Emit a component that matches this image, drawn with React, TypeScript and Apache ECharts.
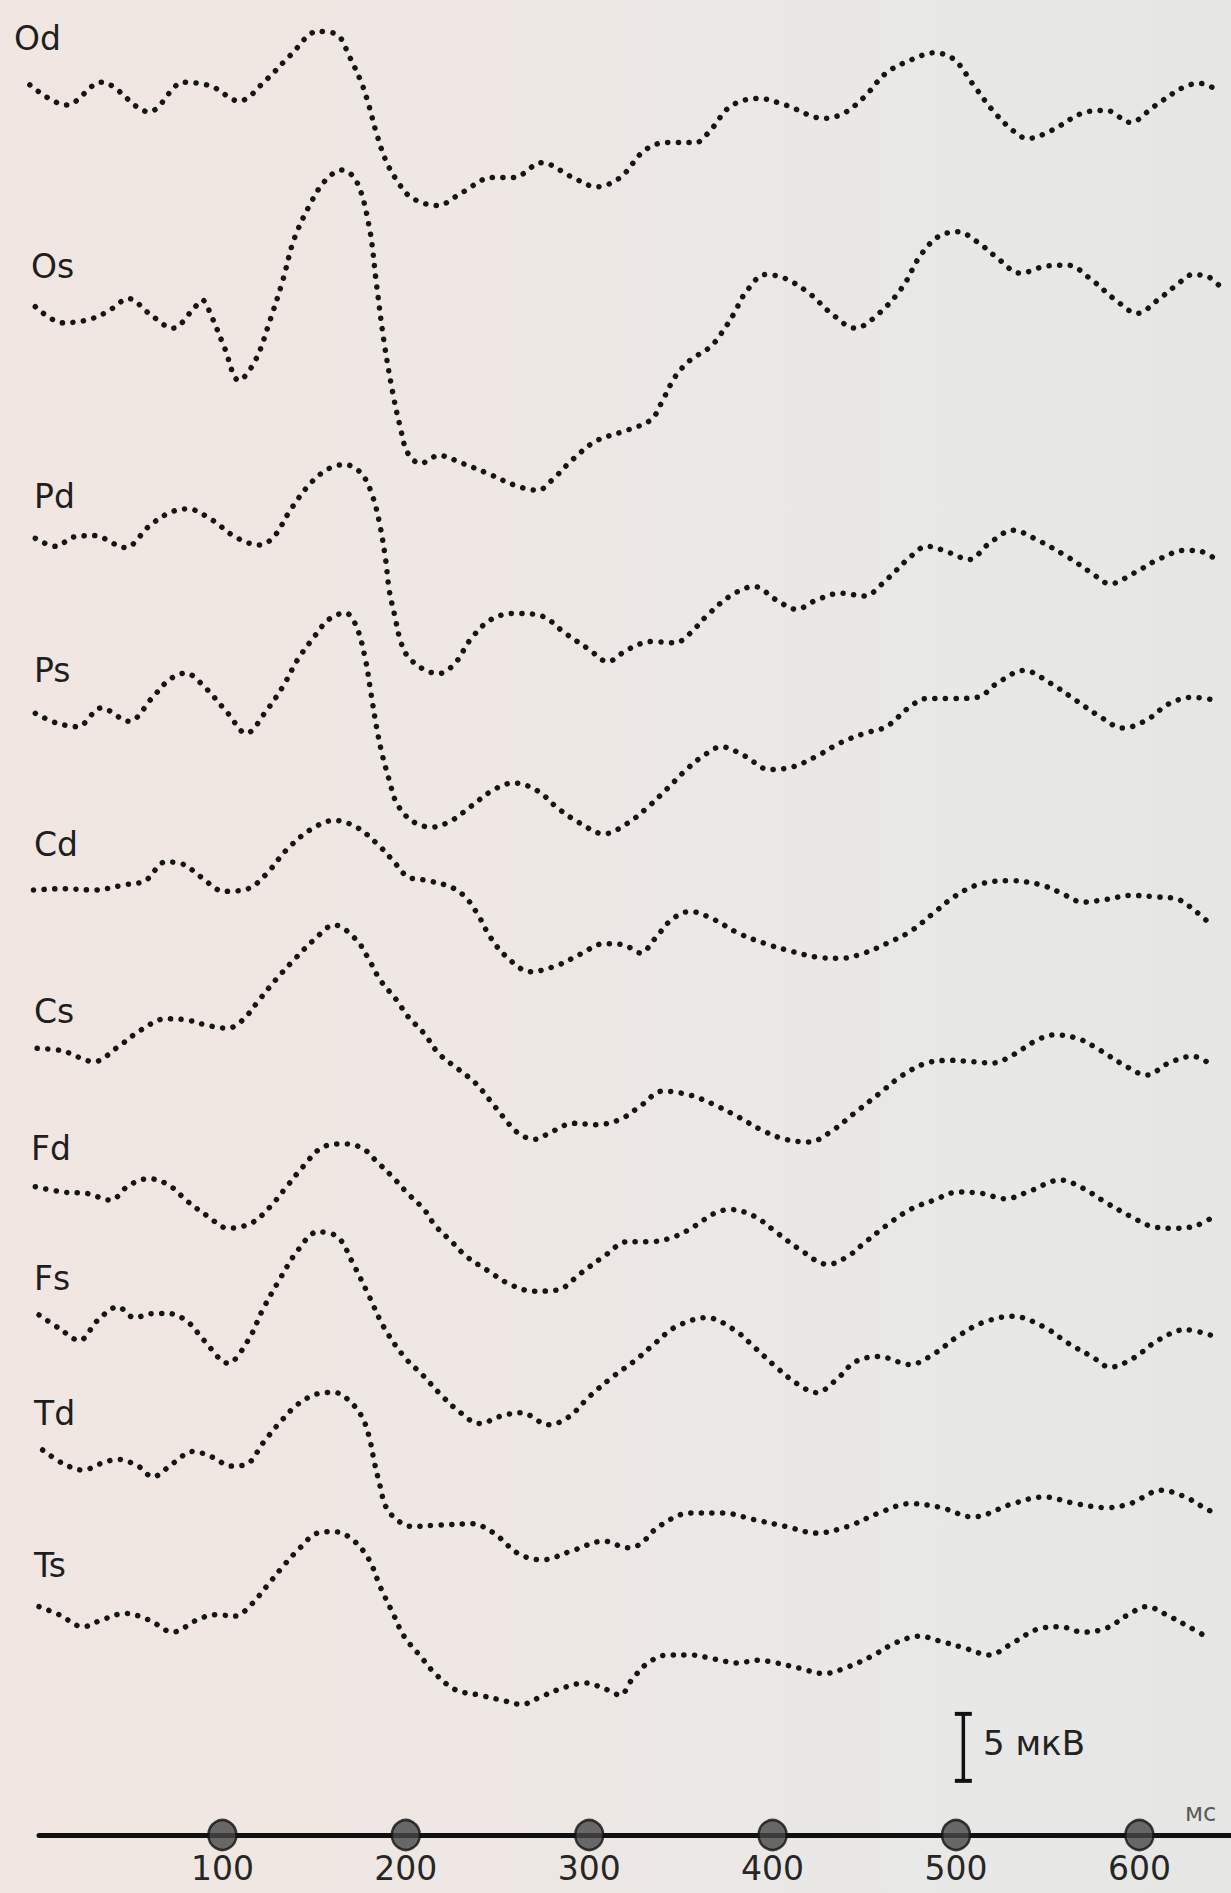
import React, { useEffect, useRef } from "react";
import * as echarts from "echarts";

// Channel names (top to bottom)
const CHANNELS = ["Od", "Os", "Pd", "Ps", "Cd", "Cs", "Fd", "Fs", "Td", "Ts"];

// Each trace: [time ms, amplitude µV relative to its own baseline]
const OD = [[-5,0],[15,-1.5],[34,0.2],[60,-2.0],[79,0.2],[94,-0.1],[109,-1.2],[124,0.4],[137,2.2],[152,4.0],[163,3.7],[169,2.2],[176,0.1],[180,-1.6],[184,-3.6],[189,-5.6],[195,-7.1],[203,-8.4],[217,-9.0],[231,-8.0],[247,-6.9],[259,-6.9],[274,-5.8],[291,-6.9],[304,-7.6],[317,-6.9],[330,-4.9],[342,-4.3],[358,-4.3],[366,-3.4],[377,-1.6],[392,-1.0],[407,-1.5],[428,-2.5],[439,-2.1],[450,-0.9],[462,0.9],[476,1.9],[488,2.4],[499,1.9],[509,0.1],[520,-1.9],[531,-3.4],[539,-4.0],[552,-3.4],[569,-2.1],[582,-1.9],[595,-2.8],[608,-1.6],[625,-0.1],[634,0.1],[640,-0.2]];
const OS = [[-2,0],[13,-1.2],[26,-1.0],[37,-0.4],[49,0.6],[60,-0.5],[73,-1.6],[84,-0.2],[89,0.5],[94,-0.7],[101,-3.0],[109,-5.5],[118,-4.0],[126,-1.0],[133,2.0],[139,5.0],[148,7.7],[156,9.4],[165,10.2],[173,9.4],[180,6.0],[184,1.7],[188,-2.5],[193,-6.5],[197,-9.0],[201,-10.9],[208,-11.7],[218,-11.1],[231,-11.7],[244,-12.4],[261,-13.4],[272,-13.7],[280,-12.9],[291,-11.4],[304,-10.0],[321,-9.2],[334,-8.4],[340,-7.0],[347,-5.2],[355,-4.0],[366,-3.0],[372,-2.0],[379,-0.5],[385,1.0],[396,2.4],[407,2.1],[420,1.0],[432,-0.5],[445,-1.6],[458,-0.5],[471,1.5],[480,3.7],[490,5.2],[501,5.6],[512,4.8],[522,3.7],[535,2.5],[548,3.0],[561,3.1],[574,2.0],[587,0.5],[599,-0.5],[610,0.5],[621,1.7],[629,2.4],[638,2.2],[644,1.5]];
const PD = [[-2,0],[9,-0.6],[19,0.1],[30,0.2],[47,-0.7],[60,0.9],[71,1.9],[81,2.2],[94,1.4],[107,0.1],[120,-0.5],[128,0.1],[137,2.1],[148,4.1],[158,5.2],[167,5.5],[176,4.8],[182,3.1],[186,0.9],[189,-1.6],[191,-3.9],[194,-5.8],[197,-7.6],[201,-8.8],[210,-9.8],[218,-10.1],[227,-9.3],[235,-7.6],[246,-6.1],[259,-5.6],[274,-5.8],[287,-7.1],[300,-8.3],[310,-9.2],[321,-8.3],[334,-7.7],[347,-7.8],[355,-7.1],[364,-5.8],[377,-4.3],[390,-3.6],[402,-4.6],[413,-5.3],[424,-4.6],[437,-4.1],[450,-4.3],[462,-3.1],[475,-1.4],[484,-0.6],[497,-1.1],[507,-1.6],[518,-0.4],[531,0.6],[544,-0.1],[561,-1.4],[574,-2.6],[584,-3.4],[597,-2.6],[610,-1.6],[625,-0.9],[634,-1.0],[642,-1.6]];
const PS = [[-2,0],[9,-0.7],[21,-1.0],[34,0.4],[49,-0.6],[62,1.2],[71,2.5],[80,3.0],[90,2.0],[103,0],[113,-1.5],[124,0.2],[133,2.0],[141,4.0],[150,5.7],[158,7.0],[167,7.5],[173,6.5],[178,4.0],[181,1.5],[184,-1.0],[187,-3.0],[191,-5.0],[195,-6.7],[203,-8.0],[214,-8.5],[225,-8.0],[235,-7.0],[248,-5.7],[259,-5.2],[272,-5.8],[283,-7.1],[295,-8.2],[308,-9.0],[321,-8.2],[332,-7.0],[342,-5.7],[353,-4.2],[362,-3.2],[372,-2.5],[385,-3.2],[398,-4.2],[411,-4.0],[424,-3.2],[437,-2.2],[450,-1.5],[462,-1.0],[475,0.5],[484,1.1],[497,1.1],[512,1.2],[522,2.2],[537,3.2],[552,2.2],[565,1.0],[578,-0.2],[591,-1.1],[604,-0.5],[616,0.7],[629,1.2],[640,1.0]];
const CD = [[-3,0],[13,0.1],[30,0],[47,0.4],[58,0.7],[69,2.1],[79,1.9],[88,1.0],[101,-0.1],[114,0.1],[124,1.2],[135,3.0],[148,4.5],[161,5.2],[173,4.7],[184,3.5],[193,2.2],[201,1.0],[212,0.7],[225,0.2],[233,-0.6],[240,-2.0],[246,-3.5],[255,-5.0],[268,-6.1],[283,-5.6],[295,-4.8],[308,-4.0],[319,-4.1],[328,-4.7],[336,-3.6],[345,-2.2],[355,-1.6],[368,-2.2],[381,-3.2],[396,-4.0],[411,-4.6],[424,-5.0],[437,-5.1],[450,-4.7],[462,-4.0],[475,-3.1],[488,-1.7],[499,-0.5],[512,0.4],[529,0.7],[546,0.4],[557,-0.2],[569,-0.9],[582,-0.7],[595,-0.4],[608,-0.5],[621,-0.7],[629,-1.4],[640,-2.7]];
const CS = [[-1,0],[13,-0.2],[30,-1.0],[43,0.1],[56,1.4],[69,2.2],[81,2.1],[92,1.7],[103,1.5],[111,2.1],[120,3.6],[129,5.1],[139,6.6],[150,8.1],[161,9.2],[173,8.1],[180,6.6],[186,5.1],[195,3.6],[201,2.4],[210,1.1],[218,-0.4],[229,-1.6],[238,-2.6],[246,-3.9],[253,-5.1],[261,-6.3],[270,-6.8],[280,-6.2],[291,-5.6],[304,-5.7],[317,-5.3],[328,-4.3],[340,-3.2],[355,-3.5],[368,-4.2],[381,-5.1],[394,-6.1],[407,-6.8],[420,-7.0],[432,-6.2],[445,-4.8],[458,-3.4],[471,-2.0],[484,-1.1],[497,-0.9],[509,-1.0],[520,-1.1],[531,-0.5],[544,0.6],[554,1.0],[567,0.7],[578,-0.1],[591,-1.2],[604,-2.0],[616,-1.1],[629,-0.6],[641,-1.4]];
const FD = [[-2,0],[13,-0.4],[26,-0.5],[39,-1.0],[49,0.1],[60,0.6],[71,0.1],[81,-1.1],[92,-2.2],[103,-3.1],[116,-2.7],[126,-1.5],[135,0],[144,1.5],[154,2.9],[165,3.2],[176,2.9],[184,1.9],[193,0.7],[201,-0.5],[210,-1.7],[216,-2.9],[225,-4.1],[233,-5.2],[244,-6.2],[257,-7.3],[270,-7.8],[283,-7.7],[295,-6.5],[308,-5.2],[321,-4.1],[334,-4.1],[347,-3.7],[358,-2.9],[368,-2.0],[377,-1.7],[390,-2.2],[402,-3.4],[415,-4.7],[430,-5.8],[441,-5.2],[450,-4.2],[462,-2.9],[475,-1.7],[488,-1.0],[501,-0.4],[514,-0.5],[527,-0.9],[539,-0.4],[557,0.5],[569,-0.1],[582,-1.2],[595,-2.2],[608,-3.0],[621,-3.1],[631,-2.9],[641,-2.2]];
const FS = [[0,0],[11,-1.0],[22,-1.9],[32,-0.4],[43,0.6],[52,-0.2],[62,0.1],[71,0.1],[81,-0.5],[90,-1.9],[103,-3.6],[114,-1.9],[122,0.4],[131,2.6],[141,4.8],[152,6.2],[163,5.8],[171,3.9],[180,1.4],[188,-0.9],[199,-3.1],[210,-4.6],[218,-5.8],[229,-7.2],[240,-8.1],[253,-7.5],[263,-7.3],[278,-8.2],[289,-7.6],[300,-6.1],[313,-4.6],[325,-3.4],[336,-2.1],[347,-0.9],[364,-0.2],[379,-1.1],[390,-2.4],[402,-3.9],[413,-5.1],[424,-5.8],[435,-4.8],[445,-3.5],[458,-3.1],[475,-3.7],[488,-2.9],[501,-1.6],[514,-0.6],[531,-0.1],[548,-0.9],[561,-2.1],[574,-3.1],[584,-3.9],[597,-3.2],[610,-1.9],[625,-1.1],[641,-1.6]];
const TD = [[2,0],[13,-1.0],[24,-1.5],[34,-1.0],[43,-0.7],[54,-1.2],[62,-2.0],[73,-1.0],[84,-0.1],[94,-0.5],[105,-1.2],[114,-1.0],[122,0.5],[131,2.0],[141,3.4],[152,4.2],[161,4.3],[169,3.7],[176,2.5],[180,1.0],[183,-1.0],[186,-2.7],[189,-4.2],[195,-5.2],[203,-5.7],[218,-5.6],[236,-5.5],[248,-6.2],[261,-7.7],[274,-8.2],[291,-7.5],[308,-6.8],[321,-7.3],[328,-7.0],[338,-5.7],[355,-4.7],[373,-4.7],[390,-5.2],[407,-5.7],[424,-6.2],[441,-5.7],[458,-4.7],[475,-4.0],[492,-4.3],[509,-5.0],[531,-4.0],[548,-3.5],[565,-4.0],[582,-4.3],[595,-4.0],[612,-3.0],[625,-3.5],[634,-4.2],[642,-4.8]];
const TS = [[0,0],[11,-0.6],[24,-1.5],[34,-1.0],[47,-0.5],[60,-1.0],[73,-1.9],[86,-1.0],[96,-0.6],[107,-0.7],[116,0.2],[124,1.5],[133,3.0],[141,4.2],[152,5.5],[161,5.6],[171,5.0],[180,3.5],[186,1.5],[193,-0.5],[199,-2.2],[208,-3.7],[216,-5.0],[227,-6.2],[240,-6.6],[253,-7.0],[263,-7.3],[274,-6.7],[287,-6.0],[298,-5.7],[308,-6.1],[317,-6.6],[323,-5.5],[332,-4.2],[343,-3.6],[355,-3.6],[368,-3.9],[381,-4.2],[392,-4.0],[402,-4.2],[415,-4.6],[428,-5.0],[441,-4.5],[454,-3.7],[467,-2.7],[480,-2.2],[492,-2.6],[505,-3.1],[518,-3.6],[531,-2.7],[544,-1.7],[557,-1.5],[569,-1.9],[582,-1.6],[595,-0.5],[604,0],[616,-0.7],[627,-1.5],[636,-2.2]];

const TRACES = [OD, OS, PD, PS, CD, CS, FD, FS, TD, TS];

// Vertical stacking of the channels (µV below the top edge)
const BASELINE_OFFSETS = [6.34, 22.89, 40.17, 53.23, 66.42, 78.23, 88.56, 98.13, 108.21, 119.9];

const TIME_TICKS = [100, 200, 300, 400, 500, 600];
const TIME_UNIT = "мс";
const SCALE_BAR_UV = 5;
const SCALE_BAR_LABEL = "5 мкВ";

// Layout (px)
const W = 1231;
const H = 1893;
const X0 = 39; // px of 0 ms
const PX_PER_MS = 1.834;
const PX_PER_UV = 13.4;
const AXIS_Y = 1835;
const LABEL_POS = [[14, 38], [31, 266], [34, 496], [34, 670], [34, 844], [34, 1011], [31, 1148], [34, 1278], [34, 1413], [34, 1565]];
const SCALE_BAR_X_MS = 504;
const SCALE_BAR_TOP_UV = -127.9;

const X_MIN = -X0 / PX_PER_MS;
const X_MAX = (W - X0) / PX_PER_MS;
const Y_MIN = -H / PX_PER_UV;

const FONT = "'DejaVu Sans', 'Liberation Sans', Arial, sans-serif";
const INK = "#151515";

export default function App() {
  const ref = useRef<HTMLDivElement>(null);

  useEffect(() => {
    if (!ref.current) return;
    const chart = echarts.init(ref.current, undefined, { renderer: "svg" });

    const traceSeries = TRACES.map((tr, i) => ({
      name: CHANNELS[i],
      type: "line",
      xAxisIndex: 0,
      yAxisIndex: 0,
      data: tr.map(([t, a]) => [t, a - BASELINE_OFFSETS[i]]),
      smooth: 0.35,
      showSymbol: false,
      symbol: "none",
      lineStyle: { color: INK, width: 5.5, type: [0.1, 10.5], cap: "round", join: "round" },
      silent: true,
      z: 3,
    }));

    const option: any = {
      animation: false,
      backgroundColor: "transparent",
      grid: [
        { left: 0, right: 0, top: 0, bottom: 0 },
        { left: X0, right: 0, top: AXIS_Y - 2, height: 2 },
      ],
      xAxis: [
        { type: "value", gridIndex: 0, min: X_MIN, max: X_MAX, show: false },
        {
          type: "value",
          gridIndex: 1,
          min: 0,
          max: X_MAX - 0.001,
          interval: 100,
          axisLine: { show: true, onZero: false, lineStyle: { color: "#111", width: 5 } },
          axisTick: { show: false },
          splitLine: { show: false },
          axisLabel: {
            margin: 17,
            fontSize: 33,
            fontFamily: FONT,
            color: "#262626",
            showMinLabel: false,
            showMaxLabel: false,
            formatter: (v: number) => (TIME_TICKS.indexOf(Math.round(v)) >= 0 ? String(Math.round(v)) : ""),
          },
        },
      ],
      yAxis: [
        { type: "value", gridIndex: 0, min: Y_MIN, max: 0, show: false },
        { type: "value", gridIndex: 1, min: 0, max: 1, show: false },
      ],
      series: [
        ...traceSeries,
        {
          type: "scatter",
          xAxisIndex: 1,
          yAxisIndex: 1,
          data: TIME_TICKS.map((t) => [t, 0]),
          symbol: "circle",
          symbolSize: [28, 30],
          itemStyle: { color: "#474747", borderColor: "#111", borderWidth: 2.5 },
          silent: true,
          z: 5,
        },
        {
          type: "line",
          xAxisIndex: 0,
          yAxisIndex: 0,
          data: [
            [SCALE_BAR_X_MS, SCALE_BAR_TOP_UV],
            [SCALE_BAR_X_MS, SCALE_BAR_TOP_UV - SCALE_BAR_UV],
          ],
          showSymbol: true,
          symbol: "rect",
          symbolSize: [17, 4],
          itemStyle: { color: "#111" },
          lineStyle: { color: "#111", width: 3.5 },
          silent: true,
          z: 5,
        },
      ],
      graphic: [
        ...CHANNELS.map((c, i) => ({
          type: "text",
          x: LABEL_POS[i][0],
          y: LABEL_POS[i][1],
          silent: true,
          style: {
            text: c,
            fontSize: 33,
            fontFamily: FONT,
            fill: "#1e1e1e",
            verticalAlign: "middle",
            align: "left",
          },
        })),
        {
          type: "text",
          x: 983,
          y: 1743,
          silent: true,
          style: { text: SCALE_BAR_LABEL, fontSize: 34, fontFamily: FONT, fill: "#222", verticalAlign: "middle" },
        },
        {
          type: "text",
          x: 1185,
          y: 1813,
          silent: true,
          style: { text: TIME_UNIT, fontSize: 24, fontFamily: FONT, fill: "#5a5a5a", verticalAlign: "middle" },
        },
      ],
    };

    chart.setOption(option);
    return () => chart.dispose();
  }, []);

  return (
    <div
      ref={ref}
      style={{
        position: "absolute",
        left: 0,
        top: 0,
        width: W,
        height: H,
        background: "linear-gradient(90deg, #f1e6e1 0%, #eee7e3 40%, #e8e8e6 75%, #e6e7e5 100%)",
      }}
    />
  );
}
